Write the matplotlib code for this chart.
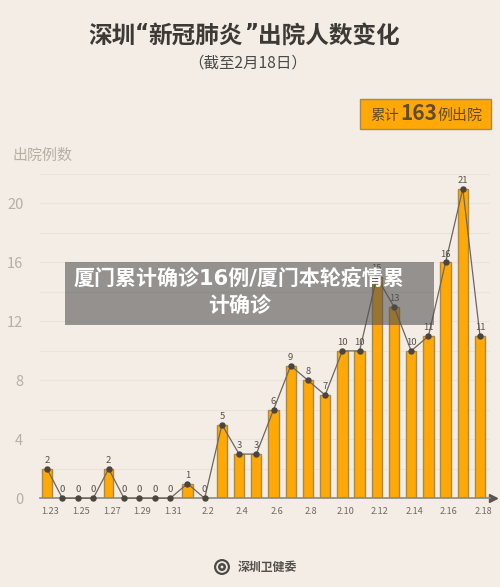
import numpy as np
import matplotlib
matplotlib.use("Agg")
from matplotlib import pyplot as plt
from matplotlib.patches import Rectangle, Circle

plt.rcParams['font.family'] = ['Noto Sans CJK SC', 'DejaVu Sans']

# Datos
days = ["1.23", "1.24", "1.25", "1.26", "1.27", "1.28", "1.29", "1.30", "1.31",
        "2.1", "2.2", "2.3", "2.4", "2.5", "2.6", "2.7", "2.8", "2.9", "2.10",
        "2.11", "2.12", "2.13", "2.14", "2.15", "2.16", "2.17", "2.18"]
discharged = [2, 0, 0, 0, 2, 0, 0, 0, 0, 1, 0, 5, 3, 3, 6, 9, 8, 7, 10,
              10, 15, 13, 10, 11, 16, 21, 11]
tick_days = ["1.23", "1.25", "1.27", "1.29", "1.31", "2.2", "2.4", "2.6", "2.8",
             "2.10", "2.12", "2.14", "2.16", "2.18"]
y_ticks = [0, 4, 8, 12, 16, 20]
y_grid = [2, 6, 10, 14, 18, 22]

BG = "#f3ede6"
W, H = 500, 587


def px(x, y):
    return x / W, 1 - y / H


fig = plt.figure(figsize=(W / 100, H / 100), dpi=100, facecolor=BG)
ax_left, ax_right, ax_bottom, ax_top = 40, 490, 498.3, 174
ax = fig.add_axes([ax_left / W, 1 - ax_bottom / H, (ax_right - ax_left) / W, (ax_bottom - ax_top) / H])
ax.set_facecolor(BG)

# El eje original no es regular: los dias de enero van mas juntos
knots_day = [-2, 8, 40]
knots_pos = [16.3, 170, 719.4]
ax.set_xscale('function', functions=(lambda v: np.interp(v, knots_day, knots_pos),
                                     lambda v: np.interp(v, knots_pos, knots_day)))
ax.set_xlim(-0.456, 26.58)
ax.set_ylim(0, 22)

xs = np.arange(len(days))
ax.bar(xs, discharged, width=0.6, color="#ffa806", edgecolor="#ab8a48", linewidth=1.0, zorder=2)
ax.plot(xs, discharged, color="#6d665c", linewidth=0.9, marker="o", markersize=3.6,
        markerfacecolor="#4a453e", markeredgecolor="#4a453e", zorder=3, clip_on=False)

for x, v in zip(xs, discharged):
    ax.annotate(str(v), (x, v), xytext=(0, 2.8), textcoords="offset points", ha="center", va="bottom",
                fontsize=6.8, color="#56524c", zorder=4)

for g in y_ticks + y_grid:
    if g > 0:
        ax.axhline(g, color="#e9e3dc", linewidth=0.8, zorder=1)

for s in ax.spines.values():
    s.set_visible(False)
ax.axhline(0, color="#8c8780", linewidth=1.2, zorder=2.5, clip_on=False)
ax.plot([1.006], [0], transform=ax.transAxes, marker=">", markersize=5.5, color="#5a554e", clip_on=False)

ax.set_xticks([])
ax.set_yticks(y_ticks)
ax.set_yticklabels([str(t) for t in y_ticks])
ax.tick_params(axis='y', length=0, pad=12, labelsize=10.5, labelcolor="#b5afa6")

# Etiquetas del eje x, un poco desplazadas respecto a las barras como en el original
for lab in tick_days:
    ax.annotate(lab, (days.index(lab), 0), xytext=(2.2, -9.5), textcoords="offset points", ha="center", va="center",
                fontsize=6.6, color="#6e6a64", annotation_clip=False)

# Titulo por trozos, las comillas del original son estrechas
title_parts = [("深圳", 88), ("新冠肺炎", 148), ("出院人数变化", 258)]
for part, left in title_parts:
    x, y = px(left, 36)
    fig.text(x, y, part, ha="left", va="center", fontsize=17, fontweight="bold", color="#3d3a36")
for mark, centre in [("“", 141.5), ("”", 251.5)]:
    x, y = px(centre, 33)
    fig.text(x, y, mark, ha="center", va="center", fontsize=15.5, fontweight="bold", color="#3d3a36",
             family=['DejaVu Sans'])

x, y = px(248, 63)
fig.text(x, y, "（截至2月18日）", ha="center", va="center", fontsize=11.2, color="#4a4a48")
x, y = px(12, 156)
fig.text(x, y, "出院例数", ha="left", va="center", fontsize=10.8, color="#b5afa6")

# Recuadro del total
fig.patches.append(Rectangle(px(359.5, 129), 131 / W, 30 / H, transform=fig.transFigure,
                             facecolor="#ffa806", edgecolor="#a98a4c", linewidth=1))
x, y = px(370, 116)
fig.text(x, y, "累计", ha="left", va="center", fontsize=10.4, color="#5f4c2a", fontweight="medium")
x, y = px(400, 114)
fig.text(x, y, "163", ha="left", va="center", fontsize=15, color="#5f4c2a", fontweight="bold")
x, y = px(438, 116)
fig.text(x, y, "例出院", ha="left", va="center", fontsize=10.8, color="#5f4c2a", fontweight="medium")

# Logo y fuente
logo_colors = ["#4d4a45", "#eeeae4", "#4d4a45", "#eeeae4"]
logo_radius = [0.08, 0.058, 0.04, 0.014]
for c, r in zip(logo_colors, logo_radius):
    fig.patches.append(Circle((2.22, 0.20), r, transform=fig.dpi_scale_trans, facecolor=c, edgecolor="none"))
x, y = px(238, 567)
fig.text(x, y, "深圳卫健委", ha="left", va="center", fontsize=8.6, fontweight="bold", color="#55514b")

# Banda superpuesta
fig.patches.append(Rectangle(px(65, 324.5), 369 / W, 62.5 / H, transform=fig.transFigure,
                             facecolor="#4f4f4f", alpha=0.58, edgecolor="none", zorder=5))
x, y = px(239.5, 278)
fig.text(x, y, "厦门累计确诊16例/厦门本轮疫情累", ha="center", va="center", fontsize=15.1, fontweight="bold",
         color="white", zorder=6, family=['DejaVu Sans', 'Noto Sans CJK SC'])
x, y = px(240, 306)
fig.text(x, y, "计确诊", ha="center", va="center", fontsize=15.1, fontweight="bold", color="white", zorder=6,
         family=['Noto Sans CJK SC'])

plt.savefig("out.png", dpi=100, facecolor=BG)
